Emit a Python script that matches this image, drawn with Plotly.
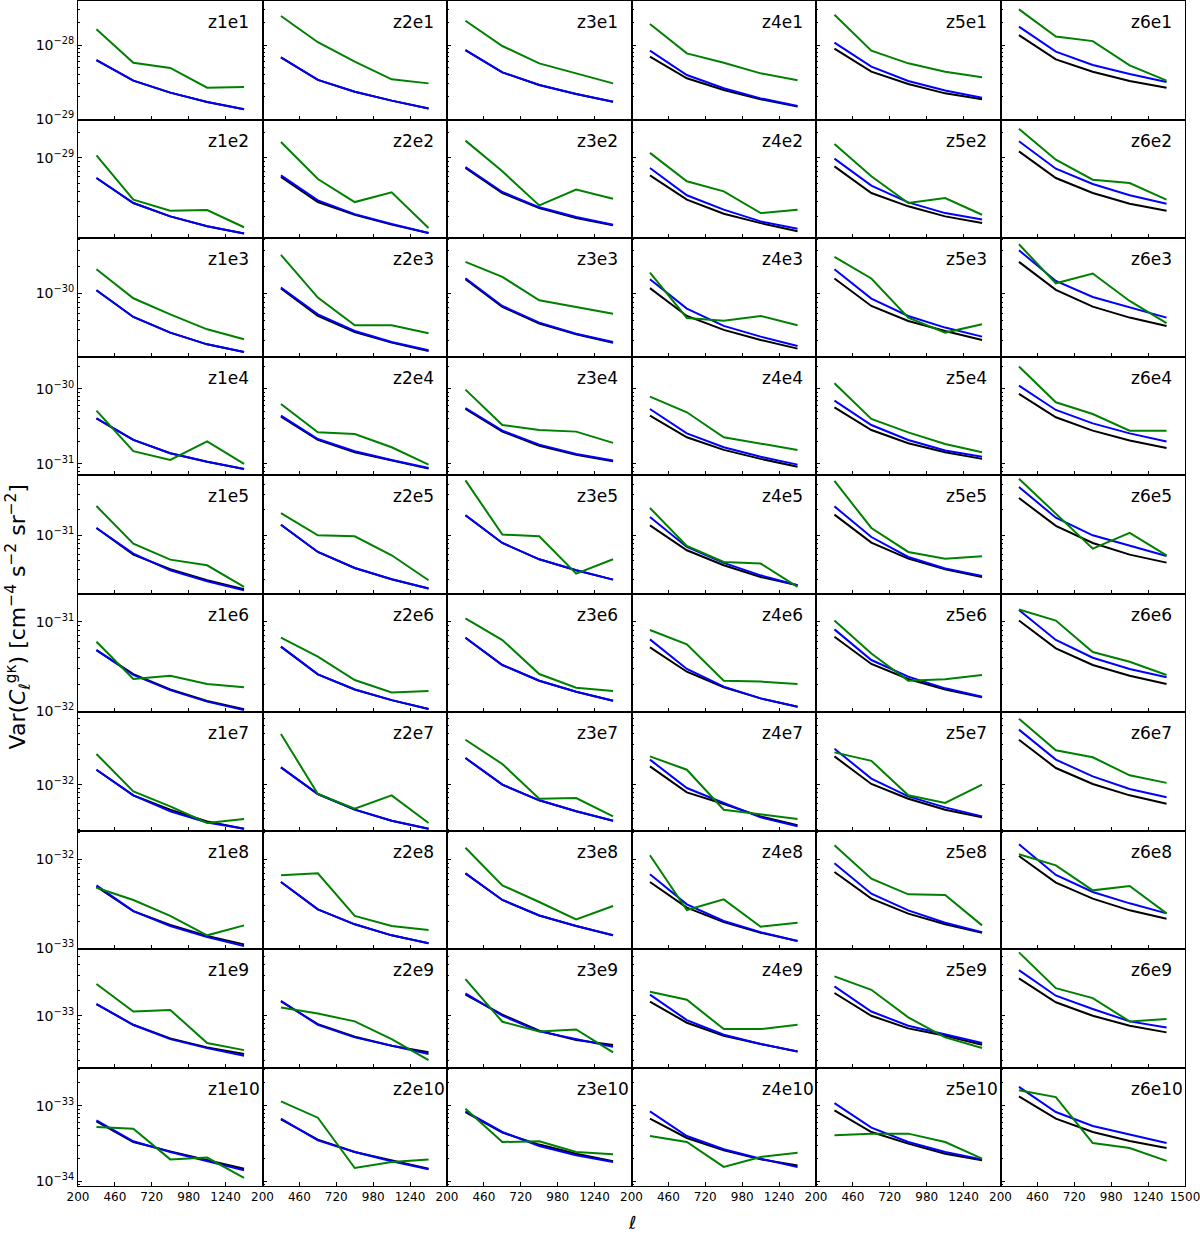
import math
import plotly.graph_objects as go
from plotly.subplots import make_subplots

# multipole bin centres
ELL = [330, 590, 850, 1110, 1370]
Z_LABELS = ["z1", "z2", "z3", "z4", "z5", "z6"]
E_LABELS = ["e1", "e2", "e3", "e4", "e5", "e6", "e7", "e8", "e9", "e10"]

# ---- row e1 ----
black_e1 = [[6.27e-29, 3.30e-29, 2.27e-29, 1.70e-29, 1.35e-29],
            [6.81e-29, 3.37e-29, 2.34e-29, 1.77e-29, 1.39e-29],
            [8.55e-29, 4.27e-29, 2.88e-29, 2.18e-29, 1.71e-29],
            [6.95e-29, 3.55e-29, 2.47e-29, 1.85e-29, 1.47e-29],
            [8.92e-29, 4.36e-29, 2.97e-29, 2.22e-29, 1.85e-29],
            [1.36e-28, 6.40e-29, 4.36e-29, 3.26e-29, 2.65e-29]]
blue_e1 = [[6.27e-29, 3.30e-29, 2.27e-29, 1.70e-29, 1.35e-29],
           [6.81e-29, 3.37e-29, 2.34e-29, 1.77e-29, 1.39e-29],
           [8.55e-29, 4.27e-29, 2.88e-29, 2.18e-29, 1.71e-29],
           [8.38e-29, 3.93e-29, 2.60e-29, 1.90e-29, 1.50e-29],
           [1.08e-28, 5.09e-29, 3.26e-29, 2.42e-29, 1.94e-29],
           [1.77e-28, 8.13e-29, 5.37e-29, 4.06e-29, 3.16e-29]]
green_e1 = [[1.63e-28, 5.77e-29, 4.89e-29, 2.65e-29, 2.70e-29],
            [2.47e-28, 1.09e-28, 5.96e-29, 3.44e-29, 3.03e-29],
            [2.13e-28, 9.69e-29, 5.65e-29, 4.14e-29, 3.03e-29],
            [1.92e-28, 7.71e-29, 5.77e-29, 4.14e-29, 3.33e-29],
            [2.57e-28, 8.38e-29, 5.65e-29, 4.36e-29, 3.66e-29],
            [3.03e-28, 1.30e-28, 1.13e-28, 5.31e-29, 3.30e-29]]

# ---- row e2 ----
black_e2 = [[5.78e-30, 2.91e-30, 2.02e-30, 1.54e-30, 1.26e-30],
            [5.94e-30, 2.99e-30, 2.11e-30, 1.61e-30, 1.28e-30],
            [7.60e-30, 3.83e-30, 2.54e-30, 1.93e-30, 1.58e-30],
            [6.22e-30, 3.19e-30, 2.17e-30, 1.68e-30, 1.34e-30],
            [7.96e-30, 3.83e-30, 2.66e-30, 2.02e-30, 1.68e-30],
            [1.20e-29, 5.78e-30, 3.83e-30, 2.86e-30, 2.36e-30]]
blue_e2 = [[5.78e-30, 2.91e-30, 2.02e-30, 1.54e-30, 1.26e-30],
           [6.22e-30, 3.13e-30, 2.15e-30, 1.64e-30, 1.28e-30],
           [7.81e-30, 3.94e-30, 2.59e-30, 1.99e-30, 1.61e-30],
           [7.60e-30, 3.60e-30, 2.43e-30, 1.76e-30, 1.44e-30],
           [9.82e-30, 4.69e-30, 2.96e-30, 2.21e-30, 1.85e-30],
           [1.58e-29, 7.46e-30, 4.90e-30, 3.60e-30, 2.86e-30]]
green_e2 = [[1.076e-29, 3.19e-30, 2.36e-30, 2.40e-30, 1.50e-30],
            [1.55e-29, 5.62e-30, 2.99e-30, 3.90e-30, 1.47e-30],
            [1.61e-29, 6.94e-30, 2.73e-30, 4.20e-30, 3.28e-30],
            [1.15e-29, 5.28e-30, 4.01e-30, 2.21e-30, 2.43e-30],
            [1.47e-29, 6.05e-30, 2.91e-30, 3.34e-30, 2.11e-30],
            [2.23e-29, 9.55e-30, 5.52e-30, 5.04e-30, 3.19e-30]]

# ---- row e3 ----
black_e3 = [[1.08e-30, 5.46e-31, 3.66e-31, 2.71e-31, 2.23e-31],
            [1.13e-30, 5.60e-31, 3.72e-31, 2.83e-31, 2.29e-31],
            [1.43e-30, 7.05e-31, 4.60e-31, 3.50e-31, 2.83e-31],
            [1.14e-30, 5.60e-31, 3.92e-31, 3.03e-31, 2.43e-31],
            [1.46e-30, 7.23e-31, 4.93e-31, 3.81e-31, 3.03e-31],
            [2.23e-30, 1.09e-30, 7.11e-31, 5.37e-31, 4.34e-31]]
blue_e3 = [[1.08e-30, 5.46e-31, 3.66e-31, 2.71e-31, 2.23e-31],
           [1.16e-30, 5.84e-31, 3.81e-31, 2.88e-31, 2.33e-31],
           [1.47e-30, 7.23e-31, 4.72e-31, 3.56e-31, 2.88e-31],
           [1.43e-30, 6.76e-31, 4.34e-31, 3.30e-31, 2.60e-31],
           [1.85e-30, 8.73e-31, 5.60e-31, 4.16e-31, 3.30e-31],
           [3.01e-30, 1.37e-30, 9.10e-31, 6.93e-31, 5.37e-31]]
green_e3 = [[1.85e-30, 8.80e-31, 5.84e-31, 3.98e-31, 3.08e-31],
            [2.67e-30, 8.95e-31, 4.41e-31, 4.41e-31, 3.59e-31],
            [2.23e-30, 1.52e-30, 8.36e-31, 7.05e-31, 5.94e-31],
            [1.70e-30, 5.32e-31, 4.97e-31, 5.60e-31, 4.41e-31],
            [2.54e-30, 1.46e-30, 5.37e-31, 3.66e-31, 4.53e-31],
            [3.50e-30, 1.29e-30, 1.66e-30, 8.22e-31, 4.65e-31]]

# ---- row e4 ----
black_e4 = [[4.06e-31, 2.09e-31, 1.39e-31, 1.07e-31, 8.57e-32],
            [4.27e-31, 2.09e-31, 1.43e-31, 1.11e-31, 8.67e-32],
            [5.41e-31, 2.70e-31, 1.75e-31, 1.33e-31, 1.09e-31],
            [4.41e-31, 2.27e-31, 1.54e-31, 1.17e-31, 9.21e-32],
            [5.70e-31, 2.84e-31, 1.89e-31, 1.43e-31, 1.17e-31],
            [8.58e-31, 4.19e-31, 2.78e-31, 2.05e-31, 1.63e-31]]
blue_e4 = [[4.06e-31, 2.09e-31, 1.39e-31, 1.07e-31, 8.57e-32],
           [4.41e-31, 2.15e-31, 1.48e-31, 1.13e-31, 8.85e-32],
           [5.58e-31, 2.78e-31, 1.81e-31, 1.36e-31, 1.11e-31],
           [5.41e-31, 2.56e-31, 1.67e-31, 1.25e-31, 9.80e-32],
           [6.99e-31, 3.31e-31, 2.09e-31, 1.51e-31, 1.25e-31],
           [1.11e-30, 5.25e-31, 3.48e-31, 2.56e-31, 2.00e-31]]
green_e4 = [[5.14e-31, 1.48e-31, 1.13e-31, 2.00e-31, 1.00e-31],
            [6.31e-31, 2.64e-31, 2.51e-31, 1.67e-31, 9.80e-32],
            [9.80e-31, 3.31e-31, 2.84e-31, 2.70e-31, 1.91e-31],
            [7.91e-31, 4.89e-31, 2.27e-31, 1.89e-31, 1.54e-31],
            [1.19e-30, 3.98e-31, 2.64e-31, 1.85e-31, 1.43e-31],
            [1.99e-30, 6.64e-31, 4.64e-31, 2.78e-31, 2.78e-31]]

# ---- row e5 ----
black_e5 = [[1.22e-31, 5.92e-32, 3.98e-32, 2.96e-32, 2.32e-32],
            [1.33e-31, 6.37e-32, 4.13e-32, 3.04e-32, 2.36e-32],
            [1.72e-31, 8.12e-32, 5.22e-32, 3.87e-32, 3.01e-32],
            [1.31e-31, 6.67e-32, 4.44e-32, 3.23e-32, 2.58e-32],
            [1.75e-31, 8.20e-32, 5.31e-32, 3.98e-32, 3.23e-32],
            [2.75e-31, 1.29e-31, 8.12e-32, 5.92e-32, 4.77e-32]]
blue_e5 = [[1.22e-31, 6.08e-32, 3.87e-32, 2.88e-32, 2.25e-32],
           [1.33e-31, 6.37e-32, 4.13e-32, 3.04e-32, 2.36e-32],
           [1.72e-31, 8.12e-32, 5.22e-32, 3.87e-32, 3.01e-32],
           [1.64e-31, 7.29e-32, 4.73e-32, 3.38e-32, 2.58e-32],
           [2.19e-31, 9.55e-32, 5.56e-32, 4.06e-32, 3.33e-32],
           [3.71e-31, 1.61e-31, 1.00e-31, 7.49e-32, 5.71e-32]]
green_e5 = [[2.21e-31, 7.97e-32, 5.17e-32, 4.44e-32, 2.47e-32],
            [1.83e-31, 1.00e-31, 9.73e-32, 5.82e-32, 2.96e-32],
            [4.44e-31, 1.02e-31, 9.73e-32, 3.54e-32, 5.22e-32],
            [2.10e-31, 7.49e-32, 4.86e-32, 4.65e-32, 2.47e-32],
            [4.36e-31, 1.22e-31, 6.37e-32, 5.31e-32, 5.66e-32],
            [4.64e-31, 1.80e-31, 6.97e-32, 1.07e-31, 5.82e-32]]

# ---- row e6 ----
black_e6 = [[4.82e-32, 2.60e-32, 1.75e-32, 1.30e-32, 1.05e-32],
            [5.26e-32, 2.58e-32, 1.75e-32, 1.33e-32, 1.06e-32],
            [6.62e-32, 3.28e-32, 2.19e-32, 1.65e-32, 1.31e-32],
            [5.16e-32, 2.76e-32, 1.85e-32, 1.39e-32, 1.12e-32],
            [6.79e-32, 3.37e-32, 2.29e-32, 1.75e-32, 1.43e-32],
            [1.03e-31, 5.04e-32, 3.28e-32, 2.49e-32, 2.01e-32]]
blue_e6 = [[4.82e-32, 2.54e-32, 1.72e-32, 1.28e-32, 1.03e-32],
           [5.26e-32, 2.58e-32, 1.75e-32, 1.33e-32, 1.06e-32],
           [6.62e-32, 3.28e-32, 2.19e-32, 1.65e-32, 1.31e-32],
           [6.35e-32, 2.96e-32, 1.88e-32, 1.39e-32, 1.12e-32],
           [8.21e-32, 3.73e-32, 2.43e-32, 1.80e-32, 1.45e-32],
           [1.35e-31, 6.24e-32, 3.96e-32, 2.96e-32, 2.39e-32]]
green_e6 = [[5.98e-32, 2.29e-32, 2.49e-32, 2.01e-32, 1.85e-32],
            [6.62e-32, 4.06e-32, 2.23e-32, 1.62e-32, 1.68e-32],
            [1.09e-31, 6.24e-32, 2.60e-32, 1.83e-32, 1.68e-32],
            [8.07e-32, 5.58e-32, 2.19e-32, 2.14e-32, 2.01e-32],
            [1.03e-31, 4.42e-32, 2.19e-32, 2.27e-32, 2.54e-32],
            [1.37e-31, 1.03e-31, 4.58e-32, 3.57e-32, 2.54e-32]]

# ---- row e7 ----
black_e7 = [[1.50e-32, 7.49e-33, 5.08e-33, 3.70e-33, 3.03e-33],
            [1.60e-32, 7.77e-33, 5.08e-33, 3.77e-33, 3.03e-33],
            [2.06e-32, 1.00e-32, 6.55e-33, 4.86e-33, 3.77e-33],
            [1.64e-32, 8.12e-33, 5.93e-33, 4.24e-33, 3.33e-33],
            [2.15e-32, 1.02e-32, 6.84e-33, 5.08e-33, 4.13e-33],
            [3.38e-32, 1.57e-32, 1.02e-32, 7.49e-33, 5.98e-33]]
blue_e7 = [[1.50e-32, 7.49e-33, 4.86e-33, 3.60e-33, 3.03e-33],
           [1.60e-32, 7.77e-33, 5.08e-33, 3.77e-33, 3.03e-33],
           [2.06e-32, 1.00e-32, 6.55e-33, 4.86e-33, 3.77e-33],
           [1.97e-32, 9.14e-33, 6.09e-33, 4.13e-33, 3.24e-33],
           [2.65e-32, 1.18e-32, 7.29e-33, 5.41e-33, 4.24e-33],
           [4.44e-32, 1.97e-32, 1.25e-32, 8.89e-33, 7.10e-33]]
green_e7 = [[2.30e-32, 8.35e-33, 5.56e-33, 3.54e-33, 3.94e-33],
            [3.94e-32, 7.77e-33, 5.22e-33, 7.49e-33, 3.54e-33],
            [3.38e-32, 1.75e-32, 6.84e-33, 6.97e-33, 4.24e-33],
            [2.15e-32, 1.50e-32, 5.08e-33, 4.52e-33, 3.94e-33],
            [2.40e-32, 1.91e-32, 7.49e-33, 6.09e-33, 1.00e-32],
            [5.97e-32, 2.54e-32, 2.10e-32, 1.29e-32, 1.05e-32]]

# ---- row e8 ----
black_e8 = [[4.92e-33, 2.61e-33, 1.82e-33, 1.37e-33, 1.10e-33],
            [5.55e-33, 2.73e-33, 1.85e-33, 1.39e-33, 1.13e-33],
            [6.95e-33, 3.48e-33, 2.33e-33, 1.77e-33, 1.39e-33],
            [5.55e-33, 2.85e-33, 1.96e-33, 1.49e-33, 1.20e-33],
            [7.19e-33, 3.60e-33, 2.44e-33, 1.85e-33, 1.49e-33],
            [1.09e-32, 5.46e-33, 3.60e-33, 2.66e-33, 2.14e-33]]
blue_e8 = [[5.09e-33, 2.61e-33, 1.77e-33, 1.33e-33, 1.05e-33],
           [5.55e-33, 2.73e-33, 1.85e-33, 1.39e-33, 1.13e-33],
           [6.95e-33, 3.48e-33, 2.33e-33, 1.77e-33, 1.39e-33],
           [6.78e-33, 3.11e-33, 2.02e-33, 1.51e-33, 1.20e-33],
           [9.01e-33, 4.10e-33, 2.66e-33, 1.93e-33, 1.51e-33],
           [1.48e-32, 6.66e-33, 4.28e-33, 3.19e-33, 2.46e-33]]
green_e8 = [[4.79e-33, 3.48e-33, 2.30e-33, 1.39e-33, 1.80e-33],
            [6.60e-33, 6.95e-33, 2.30e-33, 1.77e-33, 1.60e-33],
            [1.35e-32, 5.09e-33, 3.30e-33, 2.10e-33, 2.98e-33],
            [1.11e-32, 2.68e-33, 3.54e-33, 1.74e-33, 1.93e-33],
            [1.44e-32, 6.05e-33, 4.03e-33, 3.96e-33, 1.80e-33],
            [1.14e-32, 8.56e-33, 4.47e-33, 5.00e-33, 2.46e-33]]

# ---- row e9 ----
black_e9 = [[1.37e-33, 7.83e-34, 5.41e-34, 4.24e-34, 3.54e-34],
            [1.47e-33, 7.97e-34, 5.66e-34, 4.44e-34, 3.71e-34],
            [1.77e-33, 1.03e-33, 6.66e-34, 5.18e-34, 4.52e-34],
            [1.47e-33, 8.27e-34, 5.82e-34, 4.64e-34, 3.80e-34],
            [1.85e-33, 1.00e-33, 7.10e-34, 5.82e-34, 4.56e-34],
            [2.75e-33, 1.44e-33, 1.00e-33, 7.63e-34, 6.37e-34]]
blue_e9 = [[1.37e-33, 7.77e-34, 5.31e-34, 4.16e-34, 3.38e-34],
           [1.50e-33, 7.83e-34, 5.56e-34, 4.44e-34, 3.54e-34],
           [1.83e-33, 1.00e-33, 6.54e-34, 5.31e-34, 4.31e-34],
           [1.77e-33, 8.89e-34, 5.97e-34, 4.64e-34, 3.80e-34],
           [2.21e-33, 1.12e-33, 7.63e-34, 5.97e-34, 4.77e-34],
           [3.44e-33, 1.72e-33, 1.20e-33, 8.58e-34, 7.29e-34]]
green_e9 = [[2.36e-33, 1.12e-33, 1.17e-33, 4.77e-34, 3.94e-34],
            [1.25e-33, 1.06e-33, 8.58e-34, 5.31e-34, 3.01e-34],
            [2.70e-33, 8.49e-34, 6.54e-34, 6.90e-34, 3.71e-34],
            [1.91e-33, 1.54e-33, 6.97e-34, 6.97e-34, 7.83e-34],
            [2.90e-33, 2.02e-33, 9.56e-34, 5.56e-34, 4.17e-34],
            [5.56e-33, 2.11e-33, 1.61e-33, 8.58e-34, 9.14e-34]]

# ---- row e10 ----
black_e10 = [[6.21e-34, 3.31e-34, 2.49e-34, 1.90e-34, 1.47e-34],
             [6.59e-34, 3.56e-34, 2.44e-34, 1.90e-34, 1.47e-34],
             [8.24e-34, 4.40e-34, 3.06e-34, 2.32e-34, 1.84e-34],
             [6.73e-34, 3.74e-34, 2.57e-34, 1.95e-34, 1.62e-34],
             [8.67e-34, 4.49e-34, 3.15e-34, 2.32e-34, 1.90e-34],
             [1.33e-33, 6.73e-34, 4.49e-34, 3.41e-34, 2.76e-34]]
blue_e10 = [[6.40e-34, 3.38e-34, 2.44e-34, 1.84e-34, 1.40e-34],
            [6.73e-34, 3.48e-34, 2.44e-34, 1.84e-34, 1.44e-34],
            [8.41e-34, 4.49e-34, 2.93e-34, 2.21e-34, 1.80e-34],
            [8.41e-34, 3.97e-34, 2.65e-34, 1.99e-34, 1.55e-34],
            [1.08e-33, 5.12e-34, 3.31e-34, 2.44e-34, 1.95e-34],
            [1.77e-33, 8.24e-34, 5.38e-34, 4.14e-34, 3.21e-34]]
green_e10 = [[5.22e-34, 4.97e-34, 1.95e-34, 2.06e-34, 1.11e-34],
             [1.14e-33, 6.94e-34, 1.50e-34, 1.80e-34, 1.95e-34],
             [9.12e-34, 3.31e-34, 3.38e-34, 2.44e-34, 2.28e-34],
             [3.97e-34, 3.31e-34, 1.55e-34, 2.10e-34, 2.39e-34],
             [4.06e-34, 4.27e-34, 4.27e-34, 3.31e-34, 2.00e-34],
             [1.60e-33, 1.30e-33, 3.21e-34, 2.76e-34, 1.86e-34]]

ROW_DATA = [(black_e1, blue_e1, green_e1), (black_e2, blue_e2, green_e2),
            (black_e3, blue_e3, green_e3), (black_e4, blue_e4, green_e4),
            (black_e5, blue_e5, green_e5), (black_e6, blue_e6, green_e6),
            (black_e7, blue_e7, green_e7), (black_e8, blue_e8, green_e8),
            (black_e9, blue_e9, green_e9), (black_e10, blue_e10, green_e10)]

# shared y-limits of each row (log10)
Y_RANGES = [[-29.007, -27.405], [-29.952, -28.542], [-30.702, -29.386],
            [-31.147, -29.567], [-31.685, -30.29], [-32.009, -30.685],
            [-32.539, -31.145], [-33.011, -31.675], [-33.609, -32.215],
            [-34.062, -32.495]]

X_TICKS = [200, 460, 720, 980, 1240]
X_TICKS_LAST = [200, 460, 720, 980, 1240, 1500]

COLORS = ["#000000", "#0000ff", "#008000"]
FONT = "DejaVu Sans"

NR, NC = 10, 6
fig = make_subplots(rows=NR, cols=NC, horizontal_spacing=0, vertical_spacing=0)

for r in range(NR):
    for c in range(NC):
        for series, color in zip(ROW_DATA[r], COLORS):
            fig.add_trace(go.Scatter(x=ELL, y=series[c], mode="lines",
                                     line=dict(color=color, width=2),
                                     showlegend=False, hoverinfo="skip"),
                          row=r + 1, col=c + 1)

annotations = []
for r in range(NR):
    lo, hi = Y_RANGES[r]
    majors = [e for e in range(math.floor(lo), math.ceil(hi) + 1) if lo <= e <= hi]
    minors = []
    for e in range(math.floor(lo) - 1, math.ceil(hi) + 1):
        for m in range(2, 10):
            v = math.log10(m) + e
            if lo < v < hi:
                minors.append(m * 10.0 ** e)
    for c in range(NC):
        idx = r * NC + c + 1
        fig.update_yaxes(type="log", range=[lo, hi],
                         tickvals=[10.0 ** e for e in majors],
                         ticktext=["10<sup>\u2212%d</sup>" % (-e) for e in majors],
                         showticklabels=(c == 0),
                         ticks="inside", ticklen=4, tickwidth=1, tickcolor="black",
                         minor=dict(tickvals=minors, ticks="inside", ticklen=2,
                                    tickwidth=1, tickcolor="black"),
                         showline=True, mirror=True, linecolor="black", linewidth=1,
                         showgrid=False, zeroline=False,
                         tickfont=dict(family=FONT, size=14, color="black"),
                         row=r + 1, col=c + 1)
        tv = X_TICKS_LAST if c == NC - 1 else X_TICKS
        fig.update_xaxes(range=[200, 1500], tickvals=tv, ticktext=[str(t) for t in tv],
                         showticklabels=(r == NR - 1),
                         ticklabeloverflow="allow",
                         ticks="inside", ticklen=4, tickwidth=1, tickcolor="black",
                         showline=True, mirror=True, linecolor="black", linewidth=1,
                         showgrid=False, zeroline=False,
                         tickfont=dict(family=FONT, size=12, color="black"),
                         row=r + 1, col=c + 1)
        xr = "x domain" if idx == 1 else "x%d domain" % idx
        yr = "y domain" if idx == 1 else "y%d domain" % idx
        annotations.append(dict(text=Z_LABELS[c] + E_LABELS[r], xref=xr, yref=yr,
                                x=0.695, y=0.82, xanchor="left", yanchor="middle",
                                showarrow=False,
                                font=dict(family=FONT, size=17, color="black")))

annotations.append(dict(text="Var(<i>C</i><sub>\u2113</sub><sup>g\u03ba</sup>) [cm<sup>\u22124</sup> s<sup>\u22122</sup> sr<sup>\u22122</sup>]",
                        xref="paper", yref="paper", x=-0.054, y=0.48,
                        xanchor="center", yanchor="middle", textangle=-90,
                        showarrow=False, font=dict(family=FONT, size=22, color="black")))
annotations.append(dict(text="<i>\u2113</i>", xref="paper", yref="paper",
                        x=0.5, y=-0.031, xanchor="center", yanchor="middle",
                        showarrow=False, font=dict(family=FONT, size=18, color="black")))

fig.update_layout(width=1200, height=1235,
                  margin=dict(l=78, r=15, t=1, b=49),
                  paper_bgcolor="white", plot_bgcolor="white",
                  annotations=annotations, showlegend=False)

fig.write_html("out.html")
